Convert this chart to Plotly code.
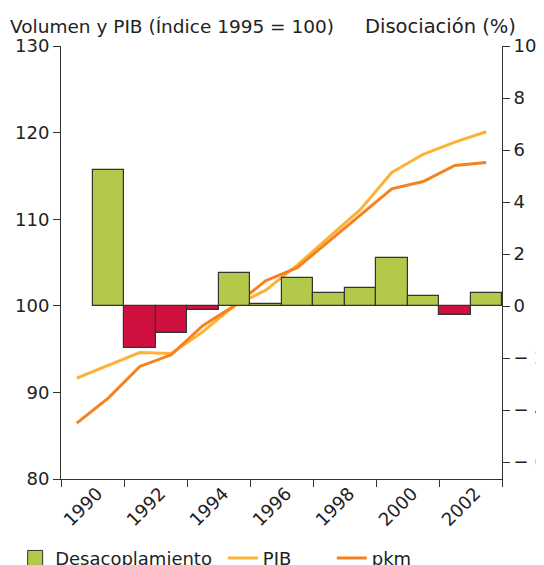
import plotly.graph_objects as go

# Data
line_years = [1989, 1990, 1991, 1992, 1993, 1994, 1995, 1996, 1997, 1998, 1999, 2000, 2001, 2002]
pib = [91.65, 93.1, 94.6, 94.5, 97.0, 100.0, 101.8, 104.7, 107.9, 111.1, 115.4, 117.5, 118.9, 120.1]
pkm = [86.45, 89.34, 93.0, 94.34, 97.7, 100.0, 102.9, 104.4, 107.45, 110.5, 113.5, 114.35, 116.2, 116.55]
bar_years = [1990, 1991, 1992, 1993, 1994, 1995, 1996, 1997, 1998, 1999, 2000, 2001, 2002]
desacop = [5.23, -1.63, -1.03, -0.15, 1.28, 0.08, 1.09, 0.49, 0.68, 1.83, 0.40, -0.35, 0.49]
x_tick_vals = [1990, 1992, 1994, 1996, 1998, 2000, 2002]
x_tick_text = ["1990", "1992", "1994", "1996", "1998", "2000", "2002"]
x_tick_marks = [1988.5, 1990.5, 1992.5, 1994.5, 1996.5, 1998.5, 2000.5, 2002.5]
left_ticks = [80, 90, 100, 110, 120, 130]
right_ticks = [-6, -4, -2, 0, 2, 4, 6, 8, 10]
right_tick_text = ["\u2212 6", "\u2212 4", "\u2212 2", "0", "2", "4", "6", "8", "10"]

GREEN = "#B3C94A"
RED = "#D0103E"
PIB_C = "#FDB236"
PKM_C = "#F5821F"
AX = "#333333"
FONT = "Verdana, DejaVu Sans, sans-serif"
FS = 18

bar_colors = [GREEN if v >= 0 else RED for v in desacop]

fig = go.Figure()
fig.add_trace(go.Bar(
    x=bar_years, y=desacop, width=1, yaxis="y2",
    marker=dict(color=bar_colors, line=dict(color="#333333", width=1.2)),
    name="Desacoplamiento", showlegend=False,
))
# legend entry for the bars (larger square swatch, as in the reference)
fig.add_trace(go.Scatter(
    x=[None], y=[None], mode="markers", yaxis="y2",
    marker=dict(symbol="square", size=15, color=GREEN, line=dict(color="#333333", width=1)),
    name="Desacoplamiento", legend="legend",
))
fig.add_trace(go.Scatter(
    x=line_years, y=pib, mode="lines", line=dict(color=PIB_C, width=3),
    name="PIB", legend="legend2",
))
fig.add_trace(go.Scatter(
    x=line_years, y=pkm, mode="lines", line=dict(color=PKM_C, width=3),
    name="pkm", legend="legend3",
))

legend_common = dict(orientation="h", yanchor="middle", y=-0.183, xanchor="left",
                     font=dict(family=FONT, size=FS, color="#222222"),
                     bgcolor="rgba(0,0,0,0)", borderwidth=0)

# page body has an 8px default margin, so the figure is sized 536x557
fig.update_layout(
    width=536, height=557,
    margin=dict(l=53, r=42, t=38, b=86, autoexpand=False),
    plot_bgcolor="white", paper_bgcolor="white",
    font=dict(family=FONT, size=FS, color="#222222"),
    bargap=0,
    xaxis=dict(
        range=[1988.5, 2002.5], tickmode="array", tickvals=x_tick_vals, ticktext=x_tick_text,
        tickangle=-45, ticks="", showgrid=False, zeroline=False, automargin=False,
        showline=True, linecolor=AX, linewidth=1,
        minor=dict(tickmode="array", tickvals=x_tick_marks, ticks="outside", ticklen=7,
                   tickcolor=AX, tickwidth=1, showgrid=False),
        ticklabelstandoff=-4, ticklabelshift=-11,
    ),
    yaxis=dict(
        range=[80, 130], tickmode="array", tickvals=left_ticks, automargin=False,
        ticks="outside", ticklen=7, tickcolor=AX, showgrid=False, zeroline=False,
        showline=True, linecolor=AX, linewidth=1,
    ),
    yaxis2=dict(
        range=[-6.654, 10], overlaying="y", side="right", tickmode="array",
        tickvals=right_ticks, ticktext=right_tick_text, automargin=False,
        ticks="outside", ticklen=7, tickcolor=AX, showgrid=False, zeroline=False,
        showline=True, linecolor=AX, linewidth=1,
    ),
    legend=dict(x=-0.104, **legend_common),
    legend2=dict(x=0.367, **legend_common),
    legend3=dict(x=0.614, **legend_common),
    showlegend=True,
    annotations=[
        dict(text="Volumen y PIB (Índice 1995 = 100)", xref="paper", yref="paper",
             x=-0.12, y=1.045, xanchor="left", yanchor="middle", showarrow=False,
             font=dict(family=FONT, size=18.5, color="#222222")),
        dict(text="Disociación (%)", xref="paper", yref="paper",
             x=1.036, y=1.045, xanchor="right", yanchor="middle", showarrow=False,
             font=dict(family=FONT, size=19.5, color="#222222")),
    ],
)

fig.write_html("out.html")
